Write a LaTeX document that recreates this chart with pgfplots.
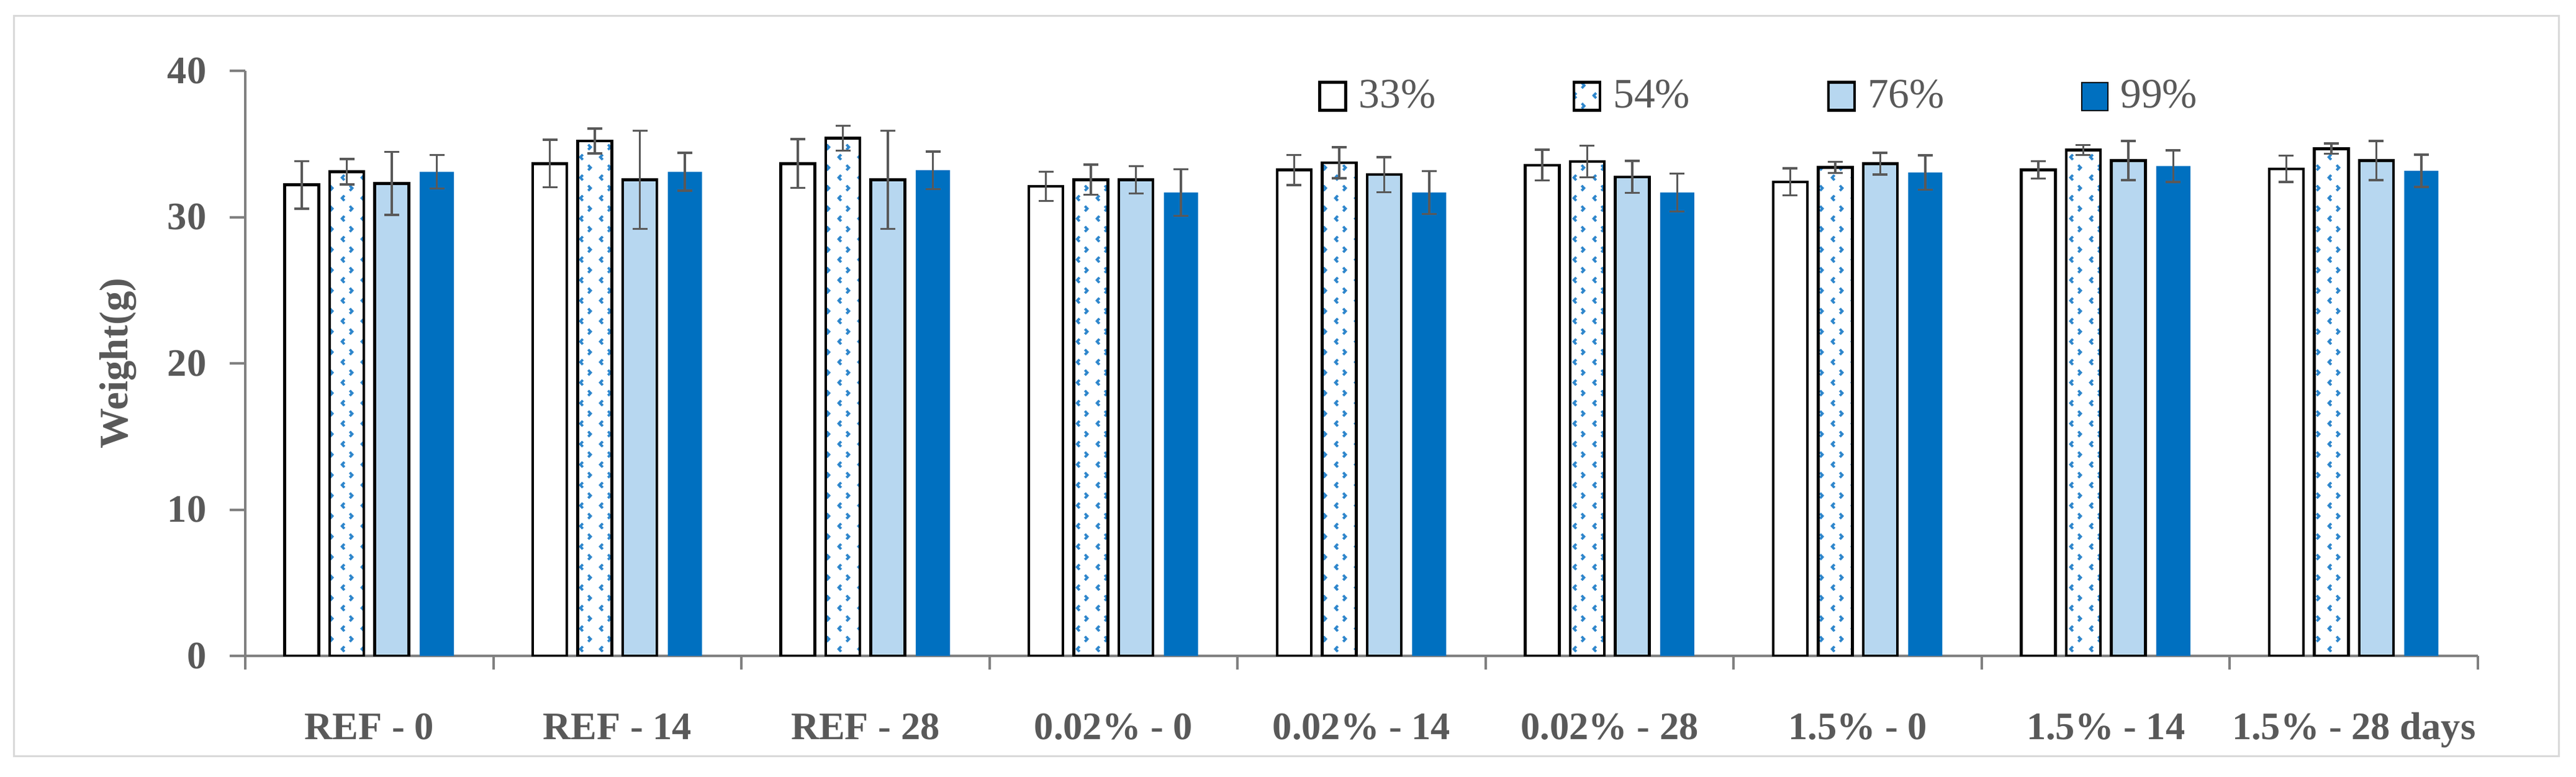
\documentclass[border=0pt]{standalone}
\usepackage{fontspec}
\setmainfont{Liberation Serif}
\usepackage{pgfplots}
\usepackage{pgfplotstable}
\pgfplotsset{compat=1.18}
\usetikzlibrary{patterns}

\definecolor{c76}{RGB}{183,215,240}
\definecolor{c99}{RGB}{0,112,192}
\definecolor{patblue}{RGB}{46,134,204}
\definecolor{axisgray}{RGB}{128,128,128}
\definecolor{textgray}{RGB}{89,89,89}
\definecolor{errgray}{RGB}{89,89,89}
\definecolor{framegray}{RGB}{217,217,217}

% small blue chevrons for the 54% bars
\pgfdeclarepatternformonly{chev}{\pgfqpoint{0pt}{0pt}}{\pgfqpoint{6.4pt}{6.6pt}}{\pgfqpoint{6.4pt}{6.6pt}}{
  \pgfsetlinewidth{0.8pt}
  \pgfpathmoveto{\pgfqpoint{2.2pt}{2.5pt}}\pgfpathlineto{\pgfqpoint{1.4pt}{1.65pt}}\pgfpathlineto{\pgfqpoint{2.2pt}{0.8pt}}
  \pgfpathmoveto{\pgfqpoint{4.0pt}{5.8pt}}\pgfpathlineto{\pgfqpoint{4.8pt}{4.95pt}}\pgfpathlineto{\pgfqpoint{4.0pt}{4.1pt}}
  \pgfusepath{stroke}}

% x: category index, a..d: means for 33/54/76/99 %, ae..de: errors
\pgfplotstableread{
x  a     ae    b     be    c     ce    d     de
0  32.20 1.63  33.10 0.88  32.30 2.15  33.10 1.14
1  33.66 1.63  35.20 0.85  32.55 3.36  33.10 1.29
2  33.66 1.66  35.40 0.85  32.55 3.36  33.20 1.29
3  32.10 1.00  32.55 1.03  32.55 0.94  31.68 1.60
4  33.22 1.03  33.72 1.06  32.90 1.20  31.68 1.46
5  33.55 1.05  33.80 1.08  32.75 1.10  31.68 1.30
6  32.41 0.92  33.40 0.39  33.66 0.74  33.05 1.17
7  33.23 0.60  34.58 0.34  33.87 1.34  33.49 1.08
8  33.30 0.90  34.68 0.35  33.87 1.34  33.16 1.10
}\data

\begin{document}
\begin{tikzpicture}
\useasboundingbox (0,0) rectangle (829.8pt,250pt);
\draw[framegray, line width=0.6pt] (4.4pt,6.6pt) rectangle (824.2pt,245pt);
\begin{axis}[
  at={(79pt,38.8pt)}, anchor=south west,
  scale only axis, width=719.2pt, height=188.4pt,
  ybar, bar width=11pt, ybar=3.5pt,
  xmin=-0.5, xmax=8.5, ymin=0, ymax=40,
  axis lines=left,
  axis line style={draw=axisgray, line width=0.8pt, -},
  tick align=outside,
  major tick length=5pt, minor tick length=4.4pt,
  ytick={0,10,...,40},
  y tick style={draw=axisgray, line width=0.8pt},
  xtick={0,...,8},
  xticklabels={REF - 0, REF - 14, REF - 28, 0.02\% - 0, 0.02\% - 14, 0.02\% - 28, 1.5\% - 0, 1.5\% - 14, 1.5\% - 28 days},
  major x tick style={draw=none},
  minor xtick={-0.5,0.5,...,8.5},
  minor x tick style={draw=axisgray, line width=0.8pt},
  /pgf/number format/assume math mode=true,
  ticklabel style={font=\fontsize{12.5}{14}\selectfont\bfseries, text=textgray},
  x tick label style={anchor=base, yshift=-21.8pt},
  y tick label style={anchor=east, xshift=-4pt},
  ylabel={Weight(g)},
  every axis y label/.style={at={(axis description cs:-0.0569,0.5)}, rotate=90, anchor=center,
    font=\fontsize{13}{15}\selectfont\bfseries, text=textgray},
  legend columns=4,
  legend cell align=left,
  legend image code/.code={\draw[#1] (0pt,-4.5pt) rectangle (8.4pt,4.5pt);},
  legend style={at={(0.4803,0.9565)}, anchor=west, draw=none, fill=none,
    inner xsep=0pt, inner ysep=0pt,
    font=\fontsize{13.5}{15}\selectfont, text=textgray,
    nodes={inner sep=2pt},
    /tikz/every odd column/.append style={column sep=1.8pt},
    /tikz/every even column/.append style={column sep=42.1pt}},
  eb/.style={error bars/.cd, y dir=both, y explicit,
    error bar style={line width=0.7pt, draw=errgray},
    error mark options={rotate=90, line width=0.7pt, draw=errgray, mark size=2.4pt}},
]
\addplot[draw=black, line width=0.9pt, fill=white, eb]
  table[x=x, y=a, y error=ae]{\data};
\addplot[draw=black, line width=0.9pt, fill=white, postaction={pattern=chev, pattern color=patblue}, eb]
  table[x=x, y=b, y error=be]{\data};
\addplot[draw=black, line width=0.9pt, fill=c76, eb]
  table[x=x, y=c, y error=ce]{\data};
\addplot[draw=none, fill=c99, eb]
  table[x=x, y=d, y error=de]{\data};
\legend{33\%, 54\%, 76\%, 99\%}
\end{axis}
\end{tikzpicture}
\end{document}
